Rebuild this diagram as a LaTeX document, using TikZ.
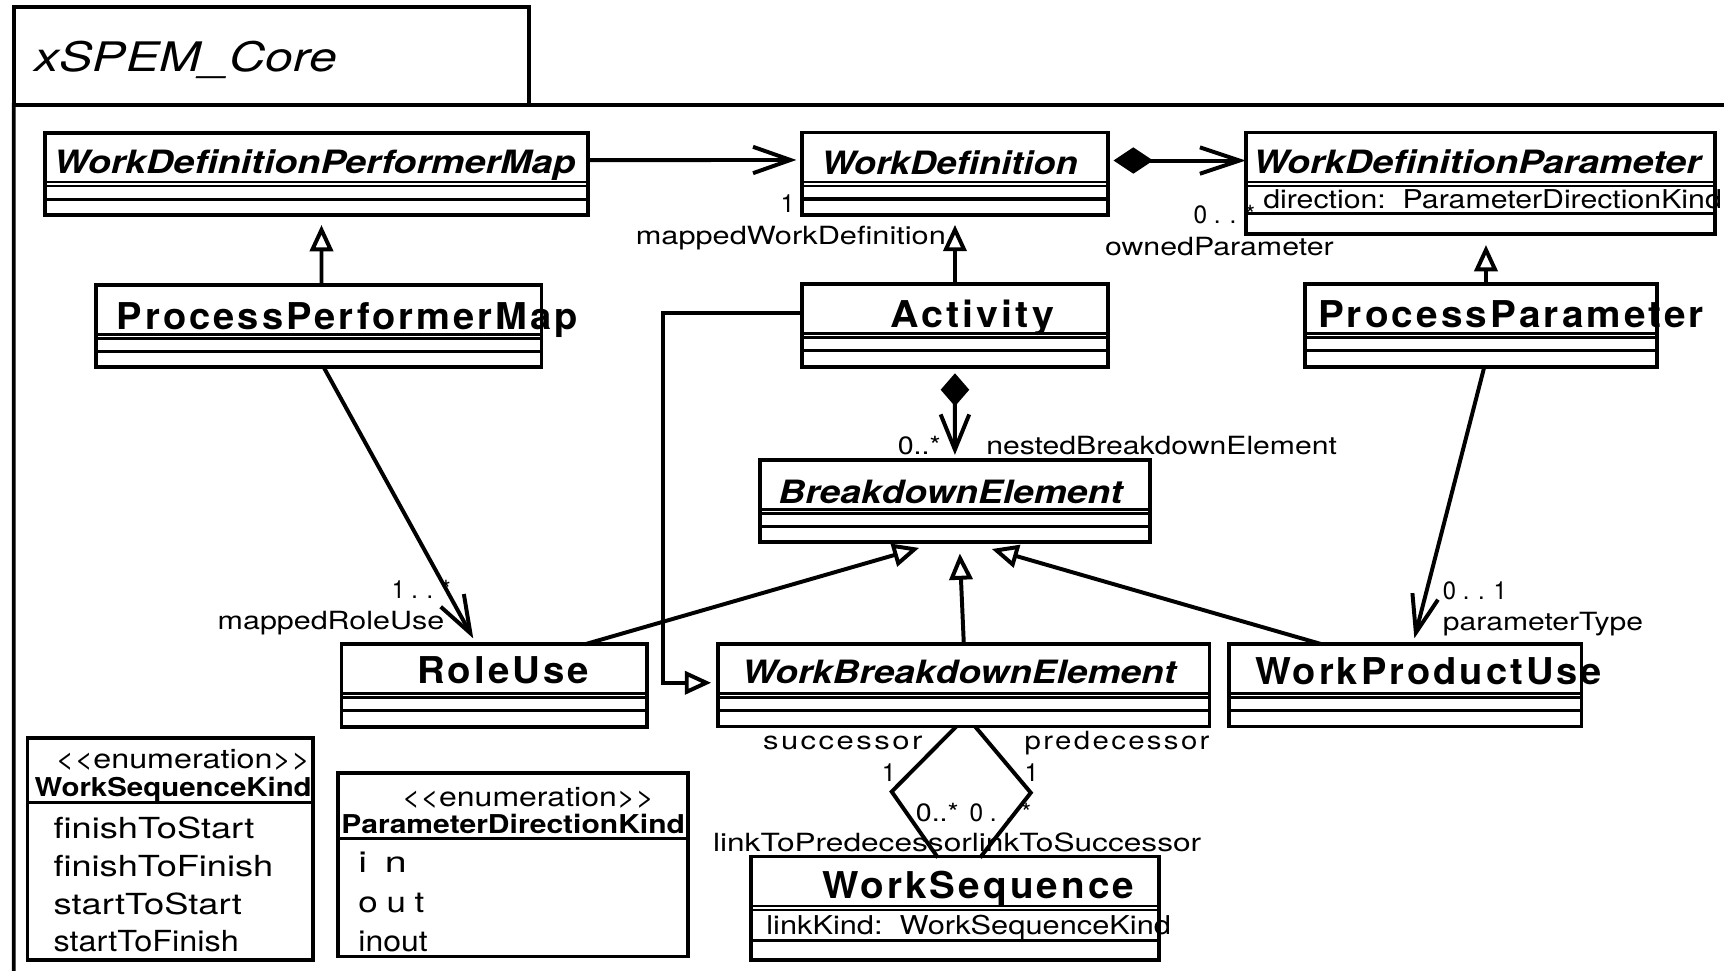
\documentclass[tikz,border=0pt]{standalone}
\usepackage{fontspec}
\setmainfont{TeX Gyre Heros}
\newfontfamily\spfont[LetterSpace=8]{TeX Gyre Heros}
\usepackage{graphicx}
\usetikzlibrary{arrows.meta,calc}
\newsavebox\fitbox
\newcommand\fitw[2]{\sbox\fitbox{#2}\pgfmathsetmacro\fitratio{(#1*0.5)/\the\wd\fitbox}\scalebox{\fitratio}[1]{\usebox\fitbox}}
\newcommand\csep[2]{\draw[sepl] ($(#1.north west)+(0,#2)$) -- ($(#1.north east)+(0,#2)$);}
\newcommand\csepd[3]{\draw[sepd] ($(#1.north west)+(0,#2)$) -- ($(#1.north east)+(0,#2)$);\draw[sepd] ($(#1.north west)+(0,#3)$) -- ($(#1.north east)+(0,#3)$);}
\tikzset{
  bx/.style 2 args={draw, line width=1.75pt, inner sep=0pt, outer sep=0pt, minimum width=#1*0.5pt, minimum height=#2*0.5pt, anchor=north west},
  sepl/.style={line width=1.4pt},
  sepd/.style={line width=1.25pt},
  txt/.style={inner sep=0pt, outer sep=0pt, anchor=base west},
  ttl/.style={txt, font=\fontsize{18.5}{20}\selectfont\itshape},
  absn/.style={txt, font=\fontsize{14.6}{16}\selectfont\bfseries\itshape},
  cn/.style={txt, font=\fontsize{16.8}{18}\spfont\bfseries},
  lbl/.style={txt, font=\fontsize{11.4}{13}\selectfont},
  slbl/.style={txt, font=\fontsize{11.4}{13}\spfont},
  attr/.style={txt, font=\fontsize{11.8}{13}\selectfont},
  enh/.style={txt, font=\fontsize{12.3}{13}\selectfont},
  enb/.style={txt, font=\fontsize{11.8}{13}\selectfont\bfseries},
  lit/.style={txt, font=\fontsize{13.2}{14}\selectfont},
  conn/.style={line width=1.8pt},
  nav/.style={conn, -{Straight Barb[length=17pt,width=12pt]}},
  gen/.style={conn, -{Triangle[open,fill=white,length=12pt,width=10.5pt]}},
}
\begin{document}
\begin{tikzpicture}[x=0.5pt,y=-0.5pt]
\useasboundingbox (0,0) rectangle (1568,883);
\clip (0,0) rectangle (1568,883);
\fill[white] (0,0) rectangle (1568,883);
% package frame
\node[bx={468.9}{88.8}] (tab) at (12.5,6.7) {};
\coordinate (frameTR) at (1620,95.5);
\coordinate (frameBL) at (12.5,940);
\draw[line width=1.75pt] (frameTR) -- (tab.south east) -- (tab.south west) -- (frameBL);
\node[ttl] (title) at (31.3,65.2) {\fitw{275}{xSPEM\_Core}};

% classes
\node[bx={494.3}{75}] (wdpm) at (40.7,120.6) {};
\csepd{wdpm}{45}{48.6}\csep{wdpm}{60.5}
\node[bx={278.5}{75}] (wd) at (729.3,120.5) {};
\csepd{wd}{45}{48.6}\csep{wd}{60.5}
\node[bx={426.5}{92}] (wdp) at (1133,120.5) {};
\csepd{wdp}{45}{48.6}\csep{wdp}{74}
\node[bx={405.5}{75}] (ppm) at (87,259) {};
\csepd{ppm}{45}{48.6}\csep{ppm}{60.5}
\node[bx={278.5}{75}] (act) at (729.3,258.5) {};
\csepd{act}{45}{48.6}\csep{act}{60.5}
\node[bx={320}{75}] (pp) at (1187,258.6) {};
\csepd{pp}{45}{48.6}\csep{pp}{60.5}
\node[bx={355}{75}] (be) at (691,418.3) {};
\csepd{be}{45}{48.6}\csep{be}{60.5}
\node[bx={278}{75}] (ru) at (310.6,586) {};
\csepd{ru}{45}{48.6}\csep{ru}{60.5}
\node[bx={447.2}{75}] (wbe) at (652.8,585.7) {};
\csepd{wbe}{45}{48.6}\csep{wbe}{60.5}
\node[bx={320.4}{75}] (wpu) at (1118,585.7) {};
\csepd{wpu}{45}{48.6}\csep{wpu}{60.5}
\node[bx={370.6}{94}] (ws) at (683.4,779) {};
\csepd{ws}{45}{48.6}\csep{ws}{76}
\node[bx={259.5}{201.5}] (ek1) at (25,671.5) {};
\csep{ek1}{58.5}
\node[bx={318}{166.7}] (ek2) at (307.4,703.3) {};
\csep{ek2}{59.1}

% class names
\node[absn] (n1) at (48.7,157.6) {\fitw{475}{WorkDefinitionPerformerMap}};
\node[absn] (n2) at (746.7,158.3) {\fitw{233.5}{WorkDefinition}};
\node[absn] (n3) at (1139.7,157.6) {\fitw{407.3}{WorkDefinitionParameter}};
\node[absn] (n4) at (708,458) {\fitw{313}{BreakdownElement}};
\node[absn] (n5) at (674.7,621.5) {\fitw{395}{WorkBreakdownElement}};
\node[cn] (n6) at (106.2,300) {\fitw{419.4}{ProcessPerformerMap}};
\node[cn] (n7) at (809.7,298) {\fitw{149}{Activity}};
\node[cn] (n8) at (1198.8,297.5) {\fitw{351}{ProcessParameter}};
\node[cn] (n9) at (379.6,622) {\fitw{156.4}{RoleUse}};
\node[cn] (n10) at (1141.5,623) {\fitw{315.5}{WorkProductUse}};
\node[cn] (n11) at (747.7,817) {\fitw{283.8}{WorkSequence}};
% attributes
\node[attr] (a1) at (1149,190) {\fitw{417}{direction:\ \ ParameterDirectionKind}};
\node[attr] (a2) at (697,849.8) {\fitw{368}{linkKind:\ \ WorkSequenceKind}};
% enumerations
\node[enh] (e1) at (50.7,699) {\fitw{231.5}{<\kern0pt<enumeration>\kern0pt>}};
\node[enb] (e2) at (31.5,724.6) {\fitw{252}{WorkSequenceKind}};
\node[lit] (e3) at (48.7,762.5) {\fitw{182.7}{finishToStart}};
\node[lit] (e4) at (48.7,797.3) {\fitw{199.8}{finishToFinish}};
\node[lit] (e5) at (48.7,831.6) {\fitw{171.3}{startToStart}};
\node[lit] (e6) at (48.7,865.5) {\fitw{168.5}{startToFinish}};
\node[enh] (f1) at (365.4,733.7) {\fitw{229.6}{<\kern0pt<enumeration>\kern0pt>}};
\node[enb] (f2) at (310.5,758) {\fitw{312.5}{ParameterDirectionKind}};
\node[lit] (f3) at (326,793.7) {\fitw{44}{i\hspace{0.45em}n}};
\node[lit] (f4) at (326,830) {\fitw{60}{o\hspace{0.25em}u\hspace{0.25em}t}};
\node[lit] (f5) at (326,865.5) {\fitw{63}{inout}};

% connectors
\draw[nav] ($(wdpm.north east)+(0,25)$) -- ($(wd.north west)+(-5,25)$);
\draw[conn, {Diamond[length=18pt,width=12pt]}-{Straight Barb[length=18pt,width=12pt]}]
  ($(wd.north east)+(5,25.5)$) -- ($(wdp.north west)+(0,25.5)$);
\draw[gen] ($(ppm.north west)+(205.4,0)$) -- ($(wdpm.south west)+(251.7,9)$);
\draw[gen] (act.north) -- ($(wd.south)+(0,9)$);
\draw[gen] ($(pp.north west)+(164.5,0)$) -- ($(wdp.south west)+(218.5,10.3)$);
\draw[conn, {Diamond[length=15pt,width=13pt]}-{Straight Barb[length=16pt,width=13pt]}]
  ($(act.south)+(0,6)$) -- ($(be.north)+(0,-4.6)$);
\draw[nav] ($(ppm.south west)+(207.4,0)$) -- ($(ru.north west)+(119.8,-5.4)$);
\draw[nav] ($(pp.south west)+(163,0)$) -- ($(wpu.north west)+(168.4,-5.1)$);
\draw[gen] ($(ru.north west)+(221.3,0)$) -- ($(be.south west)+(145,5)$);
\draw[gen] ($(wbe.north west)+(223.8,0)$) -- ($(be.south west)+(182,10)$);
\draw[gen] ($(wpu.north west)+(83.4,0)$) -- ($(be.south west)+(211,6)$);
\draw[gen] ($(act.north west)+(0,26.5)$) -| ($(wbe.north west)+(-50.2,35.3)$) -- ($(wbe.north west)+(-6,35.3)$);
\coordinate (sk) at (811,720);
\coordinate (pk) at (937.5,721);
\draw[conn] ($(wbe.south west)+(217,0)$) -- (sk) -- ($(ws.north west)+(169.6,1)$);
\draw[conn] ($(wbe.south west)+(234,0)$) -- (pk) -- ($(ws.north west)+(208,1)$);

% role labels
\node[lbl] (l1) at (710,193.4) {1};
\node[lbl] (l2) at (578.3,222) {\fitw{282}{mappedWorkDefinition}};
\node[lbl] (l3) at (1085.5,203.7) {\fitw{56}{0 . . *}};
\node[lbl] (l4) at (1005,232.8) {\fitw{208}{ownedParameter}};
\node[lbl] (l5) at (816.6,413.7) {\fitw{39}{0..*}};
\node[lbl] (l6) at (897,413.7) {\fitw{319}{nestedBreakdownElement}};
\node[lbl] (l7) at (356.5,544.2) {\fitw{53.5}{1 . . *}};
\node[lbl] (l8) at (198,572.4) {\fitw{206}{mappedRoleUse}};
\node[lbl] (l9) at (1312.4,545.7) {\fitw{58}{0 . . 1}};
\node[lbl] (l10) at (1312.4,573) {\fitw{182}{parameterType}};
\node[slbl] (l11) at (694,682) {\fitw{145}{successor}};
\node[slbl] (l12) at (932,682) {\fitw{168}{predecessor}};
\node[lbl] (l13) at (802,711) {1};
\node[lbl] (l14) at (932,711) {1};
\node[lbl] (l15) at (833,747.3) {\fitw{39}{0..*}};
\node[lbl] (l16) at (881.8,747.3) {\fitw{56}{0 . . *}};
\node[lbl] (l17) at (648.5,774.6) {\fitw{444}{linkToPredecessorlinkToSuccessor}};
\end{tikzpicture}
\end{document}
